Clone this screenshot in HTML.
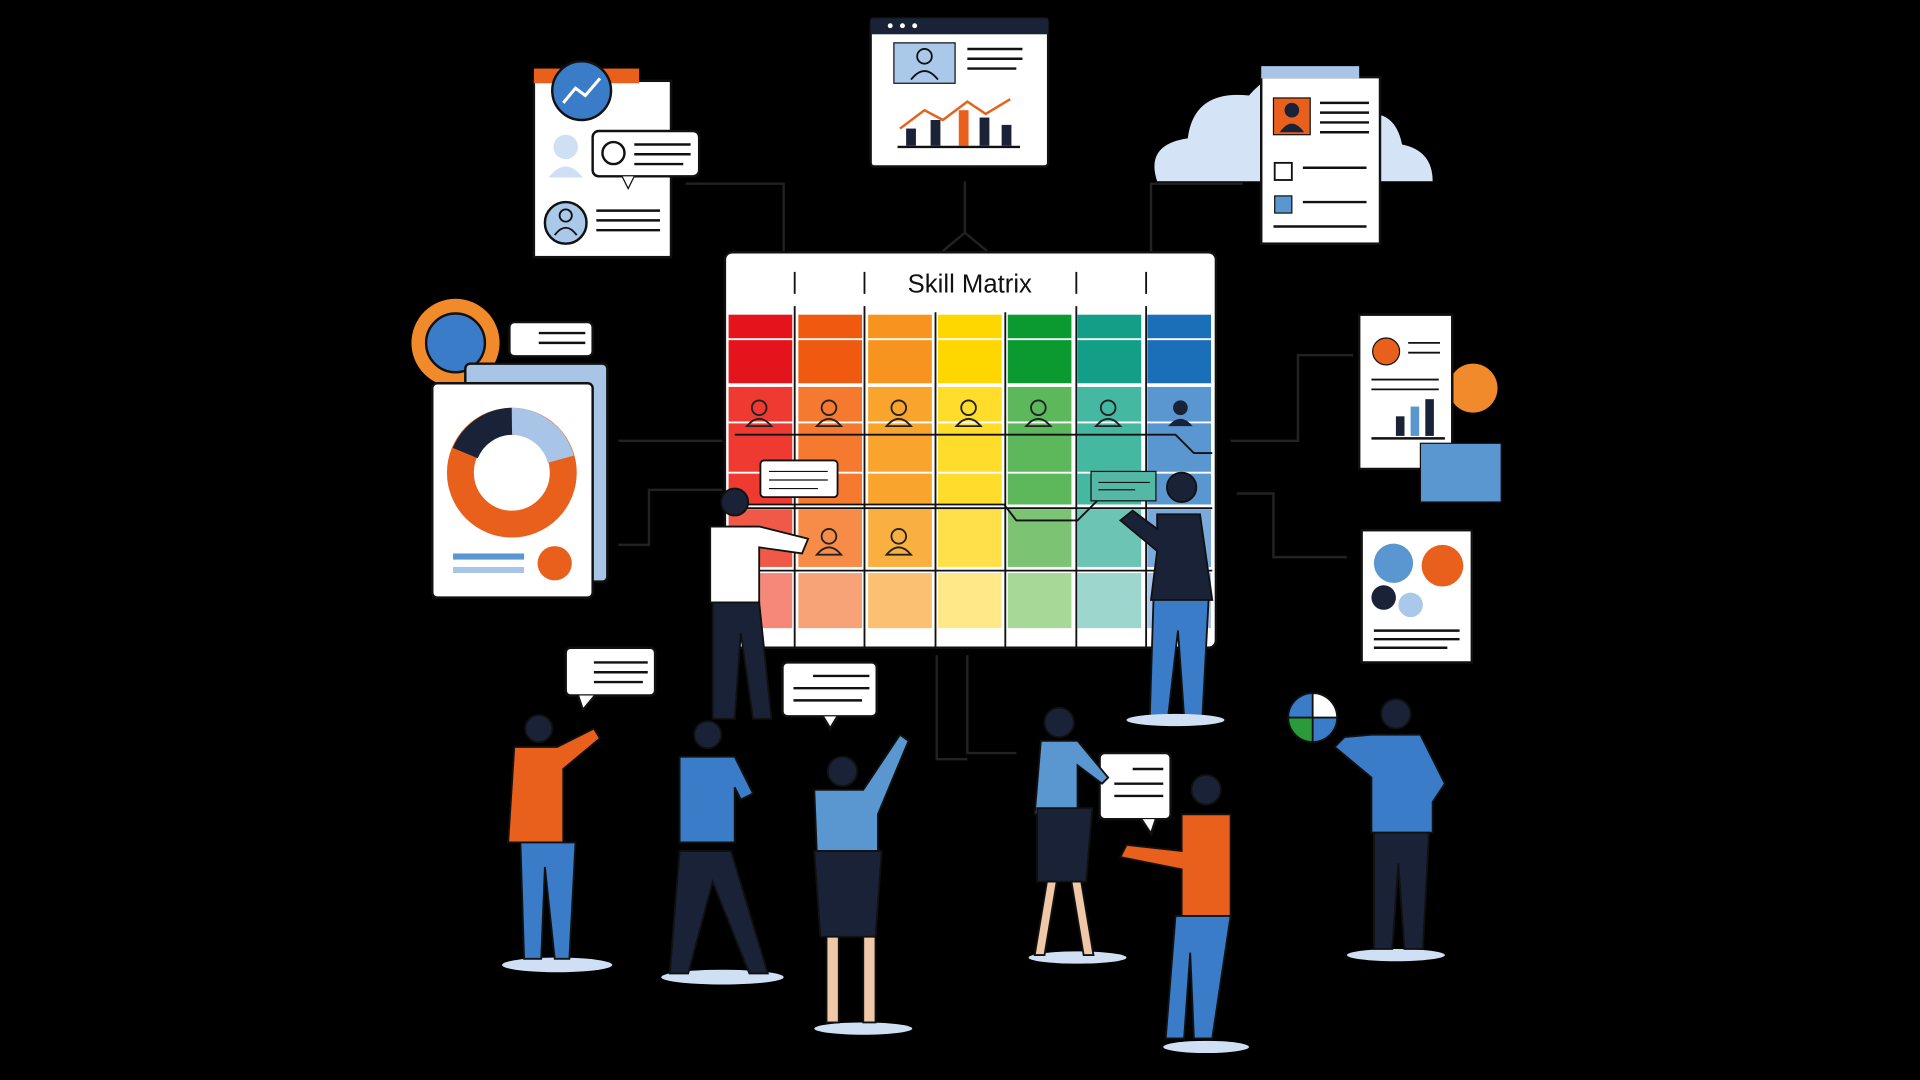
<!DOCTYPE html>
<html><head><meta charset="utf-8"><style>html,body{margin:0;padding:0;background:#000;width:1920px;height:1080px;overflow:hidden}svg{display:block}</style></head><body>
<svg width="1920" height="1080" viewBox="0 0 1568 882" xmlns="http://www.w3.org/2000/svg" font-family="Liberation Sans, sans-serif">
<rect width="1568" height="882" fill="#000"/>
<g fill="none" stroke="#222" stroke-width="2">
<path d="M560 150 H640 V205"/><path d="M788 148 V190 L770 205 M788 190 L806 205"/><path d="M1015 150 H940 V205"/>
<path d="M505 360 H590"/><path d="M505 445 H530 V400 H590"/><path d="M1005 360 H1060 V290 H1105"/><path d="M1010 403 H1040 V455 H1100"/>
<path d="M765 535 V620 H790 M790 535 V615 H830"/>
</g>
<!-- Matrix -->
<rect x="592" y="206" width="401" height="323" rx="6" fill="#fff" stroke="#111" stroke-width="2"/>
<text x="792" y="239" font-size="21" text-anchor="middle" fill="#111">Skill Matrix</text>
<g stroke="#111" stroke-width="1.5"><path d="M649 222V240 M706 222V240 M879 222V240 M936 222V240"/></g>
<g id="cells">
<!-- col colors -->
<g>
<rect x="595" y="257" width="52" height="56" fill="#e3141b"/><rect x="652" y="257" width="52" height="56" fill="#f05a10"/><rect x="709" y="257" width="52" height="56" fill="#f79420"/><rect x="766" y="257" width="52" height="56" fill="#ffd700"/><rect x="823" y="257" width="52" height="56" fill="#0b9a30"/><rect x="880" y="257" width="52" height="56" fill="#139e88"/><rect x="937" y="257" width="52" height="56" fill="#1b6fb8"/>
<rect x="595" y="316" width="52" height="96" fill="#ee3a30"/><rect x="652" y="316" width="52" height="96" fill="#f57a30"/><rect x="709" y="316" width="52" height="96" fill="#f9a42c"/><rect x="766" y="316" width="52" height="96" fill="#ffdd2a"/><rect x="823" y="316" width="52" height="96" fill="#5cb85a"/><rect x="880" y="316" width="52" height="96" fill="#45b8a2"/><rect x="937" y="316" width="52" height="96" fill="#5a96d0"/>
<rect x="595" y="416" width="52" height="47" fill="#f05848"/><rect x="652" y="416" width="52" height="47" fill="#f68c48"/><rect x="709" y="416" width="52" height="47" fill="#fab040"/><rect x="766" y="416" width="52" height="47" fill="#ffe04a"/><rect x="823" y="416" width="52" height="47" fill="#7cc474"/><rect x="880" y="416" width="52" height="47" fill="#6cc4b4"/><rect x="937" y="416" width="52" height="47" fill="#7aaadc"/>
<rect x="595" y="468" width="52" height="45" fill="#f58878"/><rect x="652" y="468" width="52" height="45" fill="#f8a278"/><rect x="709" y="468" width="52" height="45" fill="#fbc070"/><rect x="766" y="468" width="52" height="45" fill="#ffe888"/><rect x="823" y="468" width="52" height="45" fill="#a8d898"/><rect x="880" y="468" width="52" height="45" fill="#9cd6cc"/><rect x="937" y="468" width="52" height="45" fill="#a8c6ea"/>
</g>
<g stroke="#fff" stroke-width="1.5"><path d="M595 277H990 M595 345H990 M595 386H990"/></g>
<g stroke="#111" stroke-width="1.5"><path d="M649 250V528 M706 250V528 M764 255V528 M821 255V528 M879 250V528 M936 250V528 M595 415H990 M595 466H990"/></g>
</g>
<g fill="none" stroke="#222" stroke-width="1.5">
<g id="p"><circle cx="620" cy="333" r="6"/><path d="M610 348 q10-12 20 0z"/></g>
<use href="#p" x="57"/><use href="#p" x="114"/><use href="#p" x="171"/><use href="#p" x="228"/><use href="#p" x="285"/>
<use href="#p" x="57" y="105"/><use href="#p" x="114" y="105"/>
</g>
<circle cx="964" cy="333" r="6" fill="#1a2238"/><path d="M954 348 q10-12 20 0z" fill="#1a2238"/>
<path d="M600 355 H960 L975 370 H990 M600 412 H820 L830 425 H880 L900 405" fill="none" stroke="#111" stroke-width="1.5"/>
<rect x="621" y="376" width="63" height="30" rx="3" fill="#fff" stroke="#111" stroke-width="1.5"/><path d="M628 385h48M628 392h48M628 399h40" stroke="#111"/>
<rect x="891" y="385" width="53" height="24" fill="#54b8a6" stroke="#111"/><path d="M897 394h42M897 400h30" stroke="#111"/>
<!-- Top documents -->
<rect x="711" y="15" width="145" height="121" rx="3" fill="#fff" stroke="#111" stroke-width="2"/><rect x="711" y="15" width="145" height="13" fill="#1a2238"/>
<circle cx="727" cy="21" r="2" fill="#fff"/><circle cx="737" cy="21" r="2" fill="#fff"/><circle cx="747" cy="21" r="2" fill="#fff"/>
<rect x="730" y="35" width="50" height="33" fill="#aac8ea" stroke="#111"/><circle cx="755" cy="46" r="6" fill="none" stroke="#111" stroke-width="1.5"/><path d="M744 65q11-14 22 0" fill="none" stroke="#111" stroke-width="1.5"/>
<path d="M790 40h45M790 48h45M790 56h40" stroke="#111" stroke-width="2"/>
<path d="M735 105l20-15 15 8 20-15 15 10 20-12" fill="none" stroke="#e8601c" stroke-width="2"/>
<g fill="#1a2238"><rect x="740" y="105" width="8" height="14"/><rect x="760" y="98" width="8" height="21"/><rect x="783" y="90" width="8" height="29" fill="#e8601c"/><rect x="800" y="96" width="8" height="23"/><rect x="818" y="102" width="8" height="17"/></g>
<path d="M733 120h100" stroke="#111" stroke-width="2"/>
<!-- top-left doc -->
<rect x="436" y="66" width="112" height="144" fill="#fff" stroke="#111" stroke-width="2"/><rect x="436" y="56" width="86" height="12" fill="#e8601c"/>
<circle cx="475" cy="74" r="24" fill="#3a7cc8" stroke="#111" stroke-width="2"/><path d="M460 84l10-12 8 6 12-14" stroke="#fff" stroke-width="2.5" fill="none"/>
<circle cx="462" cy="120" r="10" fill="#cfe0f4"/><path d="M448 145q14-18 28 0z" fill="#cfe0f4"/>
<circle cx="462" cy="182" r="17" fill="#aac8ea" stroke="#111" stroke-width="2"/><circle cx="462" cy="176" r="5" fill="none" stroke="#111" stroke-width="1.5"/><path d="M453 192q9-12 18 0" fill="none" stroke="#111" stroke-width="1.5"/>
<path d="M487 172h52M487 180h52M487 188h52" stroke="#111" stroke-width="2"/>
<rect x="484" y="107" width="87" height="37" rx="5" fill="#fff" stroke="#111" stroke-width="2"/><path d="M508 144l5 10 5-10" fill="#fff" stroke="#111"/><circle cx="501" cy="125" r="9" fill="none" stroke="#111" stroke-width="2"/><path d="M518 118h46M518 126h46M518 134h40" stroke="#111" stroke-width="2"/>
<!-- top-right cloud doc -->
<path d="M945 148 q-10-30 25-35 q5-40 50-35 q25-30 60-10 q30-5 40 25 q20 0 25 25 q25 5 25 30z" fill="#d4e4f6"/>
<rect x="1030" y="63" width="97" height="136" fill="#fff" stroke="#111" stroke-width="2"/><rect x="1030" y="54" width="80" height="10" fill="#a8c4e6"/>
<rect x="1040" y="80" width="30" height="30" fill="#e8601c" stroke="#111"/><circle cx="1055" cy="90" r="6" fill="#1a2238"/><path d="M1045 108q10-14 20 0z" fill="#1a2238"/>
<path d="M1078 84h40M1078 92h40M1078 100h40M1078 108h40" stroke="#111" stroke-width="2"/>
<rect x="1041" y="133" width="14" height="14" fill="#fff" stroke="#111" stroke-width="1.5"/><rect x="1041" y="160" width="14" height="14" fill="#5a96d0" stroke="#111"/>
<path d="M1064 137h52M1064 165h52M1040 185h76" stroke="#111" stroke-width="2"/>
<!-- left donut -->
<circle cx="372" cy="280" r="36" fill="#f08a2a"/><circle cx="372" cy="280" r="24" fill="#3a7cc8" stroke="#111" stroke-width="2"/>
<rect x="380" y="297" width="116" height="178" rx="4" fill="#a8c4e6" stroke="#111" stroke-width="2"/>
<rect x="353" y="313" width="131" height="175" rx="4" fill="#fff" stroke="#111" stroke-width="2"/>
<circle cx="418" cy="386" r="42" fill="none" stroke="#e8601c" stroke-width="22"/>
<path d="M418 344 A42 42 0 0 1 458 375" stroke="#a8c4e6" stroke-width="22" fill="none"/><path d="M380 370 A42 42 0 0 1 418 344" stroke="#1a2238" stroke-width="22" fill="none"/>
<rect x="370" y="452" width="58" height="5" fill="#5a96d0"/><rect x="370" y="463" width="58" height="5" fill="#a8c4e6"/><circle cx="453" cy="460" r="14" fill="#e8601c"/>
<rect x="416" y="263" width="68" height="28" rx="4" fill="#fff" stroke="#111" stroke-width="2"/><path d="M440 272h38M440 280h38" stroke="#111" stroke-width="2"/>
<!-- right docs -->
<circle cx="1203" cy="317" r="20" fill="#f08a2a"/>
<rect x="1110" y="257" width="76" height="126" fill="#fff" stroke="#111" stroke-width="2"/>
<circle cx="1132" cy="287" r="11" fill="#e8601c" stroke="#111"/><path d="M1150 280h26M1150 288h26M1120 310h55M1120 318h55" stroke="#111" stroke-width="1.5"/>
<g fill="#1a2238"><rect x="1140" y="340" width="7" height="16"/><rect x="1152" y="332" width="7" height="24" fill="#5a96d0"/><rect x="1164" y="326" width="7" height="30"/></g>
<path d="M1120 358h60" stroke="#111" stroke-width="2"/>
<rect x="1160" y="362" width="66" height="48" fill="#5a96d0" stroke="#111"/>
<rect x="1112" y="433" width="90" height="108" fill="#fff" stroke="#111" stroke-width="2"/>
<circle cx="1138" cy="460" r="16" fill="#5a96d0"/><circle cx="1178" cy="462" r="17" fill="#e8601c"/><circle cx="1130" cy="488" r="10" fill="#1a2238"/><circle cx="1152" cy="494" r="10" fill="#aac8ea"/>
<path d="M1122 515h70M1122 522h70M1122 529h60" stroke="#111" stroke-width="2"/>
<!-- bubbles -->
<g fill="#fff" stroke="#111" stroke-width="2">
<rect x="462" y="529" width="73" height="39" rx="4"/><path d="M472 568l4 12 10-12"/>
<rect x="639" y="541" width="77" height="44" rx="4"/><path d="M672 585l6 10 6-10"/>
<rect x="898" y="615" width="58" height="54" rx="4"/><path d="M932 669l8 12 4-12"/>
</g>
<g stroke="#111" stroke-width="2"><path d="M485 541h44M485 549h44M485 557h40M664 552h46M648 562h62M648 572h56M925 628h25M910 640h40M910 650h40"/></g>
<!-- people -->
<g stroke="#111" stroke-width="1.5">
<!-- left white shirt -->
<circle cx="600" cy="410" r="11" fill="#1a2238"/><path d="M580 430 h40 l40 10 -5 12 -35 -5 v45 h-40z" fill="#fff"/><path d="M582 492h38l10 95h-15l-10-70-5 70h-18z" fill="#1a2238"/>
<!-- right dark -->
<circle cx="965" cy="398" r="12" fill="#1a2238"/><path d="M945 420h35l10 70h-50l5-40-30-25 10-8 20 15z" fill="#1a2238"/><path d="M942 490h45l-5 95h-15l-5-70-8 70h-15z" fill="#3a7cc8"/>
<ellipse cx="960" cy="588" rx="40" ry="5" fill="#cfe0f4" stroke="none"/>
<!-- bottom people -->
<ellipse cx="455" cy="788" rx="45" ry="6" fill="#cfe0f4" stroke="none"/><circle cx="440" cy="595" r="11" fill="#1a2238"/><path d="M420 610h35l30-15 5 8-30 25v60h-45z" fill="#e8601c"/><path d="M425 688h45l-5 95h-12l-8-75-3 75h-14z" fill="#3a7cc8"/>
<ellipse cx="590" cy="798" rx="50" ry="6" fill="#cfe0f4" stroke="none"/><circle cx="578" cy="600" r="11" fill="#1a2238"/><path d="M555 618h45l15 30-10 5-5-10v45h-45z" fill="#3a7cc8"/><path d="M555 695h42l30 100h-15l-30-75-20 75h-15z" fill="#1a2238"/>
<ellipse cx="705" cy="840" rx="40" ry="5" fill="#cfe0f4" stroke="none"/><circle cx="688" cy="630" r="12" fill="#1a2238"/><path d="M665 645h40l30-45 7 5-25 60v30h-50z" fill="#5a96d0"/><path d="M665 695h55l-5 70h-45z" fill="#1a2238"/><path d="M675 765h10v70h-10zM705 765h10v70h-10z" fill="#f0c8a8"/>
<ellipse cx="880" cy="782" rx="40" ry="5" fill="#cfe0f4" stroke="none"/><circle cx="865" cy="590" r="12" fill="#1a2238"/><path d="M850 605h30l25 30-5 5-20-15v40h-35z" fill="#5a96d0"/><path d="M847 660h45l-5 60h-40z" fill="#1a2238"/><path d="M855 720h8l-10 60h-8zM875 720h8l10 60h-8z" fill="#f0c8a8"/>
<ellipse cx="985" cy="855" rx="35" ry="5" fill="#cfe0f4" stroke="none"/><circle cx="985" cy="645" r="12" fill="#1a2238"/><path d="M965 665h40v85h-40v-40l-50-10 5-10 45 5z" fill="#e8601c"/><path d="M960 748h45l-15 100h-15l-3-70-5 70h-15z" fill="#3a7cc8"/>
<ellipse cx="1140" cy="780" rx="40" ry="5" fill="#cfe0f4" stroke="none"/><circle cx="1140" cy="583" r="12" fill="#1a2238"/><path d="M1120 600h40l20 40-10 15v25h-50v-45l-30-25 8-8z" fill="#3a7cc8"/><path d="M1122 680h45l-5 95h-15l-5-70-5 70h-15z" fill="#1a2238"/>
<circle cx="1072" cy="586" r="20" fill="#3a7cc8"/><path d="M1072 566a20 20 0 0 1 20 20h-20z" fill="#fff"/><path d="M1052 586a20 20 0 0 0 20 20v-20z" fill="#2a9a3a"/>
</g>
</svg>
</body></html>
